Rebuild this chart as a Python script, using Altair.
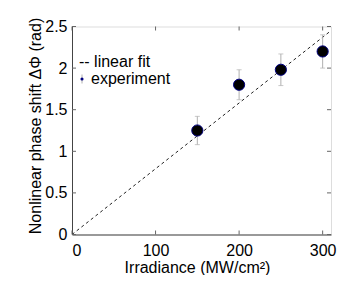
import altair as alt
import pandas as pd

irradiance = [150, 200, 250, 300]
phase = [1.25, 1.80, 1.98, 2.20]
err = [0.17, 0.18, 0.19, 0.20]
fit_x = [0, 310]
fit_y = [0, 2.45]
x_ticks = [0, 100, 200, 300]
y_ticks = [0, 0.5, 1, 1.5, 2, 2.5]

W, H = 259, 208
FONT = "Liberation Sans"

pts = pd.DataFrame({"x": irradiance, "y": phase,
                    "lo": [p - e for p, e in zip(phase, err)],
                    "hi": [p + e for p, e in zip(phase, err)]})
fit = pd.DataFrame({"x": fit_x, "y": fit_y})
xt = pd.DataFrame({"v": x_ticks})
yt = pd.DataFrame({"v": y_ticks})

xs = alt.Scale(domain=[0, 310], nice=False)
ys = alt.Scale(domain=[0, 2.5], nice=False)

xaxis = alt.Axis(values=x_ticks, ticks=False, grid=False, labelFontSize=16, labelFont=FONT,
                 labelPadding=8, title="Irradiance (MW/cm²)", titleFontSize=16, titleFont=FONT,
                 titleFontWeight="normal", titleX=125, titleY=38, titleBaseline="alphabetic",
                 titleAlign="center", domainColor="#444", labelColor="black")
yaxis = alt.Axis(values=y_ticks, format="~g", ticks=False, grid=False, labelFontSize=16, labelFont=FONT,
                 labelPadding=5, title="Nonlinear phase shift ΔΦ (rad)", titleFontSize=16,
                 titleFont=FONT, titleFontWeight="normal", titleX=-32, titleY=99,
                 titleAngle=-90, titleBaseline="alphabetic", titleAlign="center",
                 domainColor="#444", labelColor="black")

line = alt.Chart(fit).mark_line(color="#222", strokeDash=[3, 3], strokeWidth=1, clip=True).encode(
    x=alt.X("x:Q", scale=xs, axis=xaxis),
    y=alt.Y("y:Q", scale=ys, axis=yaxis),
)

ebar = alt.Chart(pts).mark_rule(color="#b0b0b0", strokeWidth=1).encode(
    x=alt.X("x:Q", scale=xs), y=alt.Y("lo:Q", scale=ys), y2="hi:Q")
cap_lo = alt.Chart(pts).mark_tick(color="#b0b0b0", orient="horizontal", size=5, thickness=1).encode(
    x=alt.X("x:Q", scale=xs), y=alt.Y("lo:Q", scale=ys))
cap_hi = alt.Chart(pts).mark_tick(color="#b0b0b0", orient="horizontal", size=5, thickness=1).encode(
    x=alt.X("x:Q", scale=xs), y=alt.Y("hi:Q", scale=ys))
dots = alt.Chart(pts).mark_point(filled=False, fill="black", stroke="#000080", strokeWidth=1,
                                 size=125, opacity=1, fillOpacity=1).encode(
    x=alt.X("x:Q", scale=xs), y=alt.Y("y:Q", scale=ys))

tick_col = "#666"
bt = alt.Chart(xt).mark_rule(color=tick_col).encode(x=alt.X("v:Q", scale=xs), y=alt.value(H), y2=alt.value(H - 4))
tt = alt.Chart(xt).mark_rule(color=tick_col).encode(x=alt.X("v:Q", scale=xs), y=alt.value(0), y2=alt.value(4))
lt = alt.Chart(yt).mark_rule(color=tick_col).encode(y=alt.Y("v:Q", scale=ys), x=alt.value(0), x2=alt.value(4))
rt = alt.Chart(yt).mark_rule(color=tick_col).encode(y=alt.Y("v:Q", scale=ys), x=alt.value(W), x2=alt.value(W - 4))

leg_df = pd.DataFrame({"t": ["-- linear fit"]})
leg1 = alt.Chart(leg_df).mark_text(align="left", baseline="middle", fontSize=16, font=FONT,
                                   color="black").encode(x=alt.value(7), y=alt.value(35), text="t:N")
leg2_df = pd.DataFrame({"t": ["experiment"]})
leg2 = alt.Chart(leg2_df).mark_text(align="left", baseline="middle", fontSize=16, font=FONT,
                                    color="black").encode(x=alt.value(19), y=alt.value(52), text="t:N")
leg_bar = alt.Chart(leg2_df).mark_rule(color="#b0b0b0").encode(x=alt.value(10), y=alt.value(48), y2=alt.value(57))
leg_dot = alt.Chart(leg2_df).mark_point(filled=True, color="#000080", size=10, opacity=1).encode(
    x=alt.value(10), y=alt.value(52.5))

chart = alt.layer(line, ebar, cap_lo, cap_hi, dots, bt, tt, lt, rt, leg1, leg_bar, leg_dot, leg2).properties(
    width=W, height=H,
    autosize=alt.AutoSizeParams(type="none"),
    padding={"left": 64, "top": 18.5, "right": 16, "bottom": 40},
).configure_view(stroke="#444", strokeWidth=1).configure(background="white")

chart.save("out.html", embed_options={"renderer": "svg", "actions": False})
